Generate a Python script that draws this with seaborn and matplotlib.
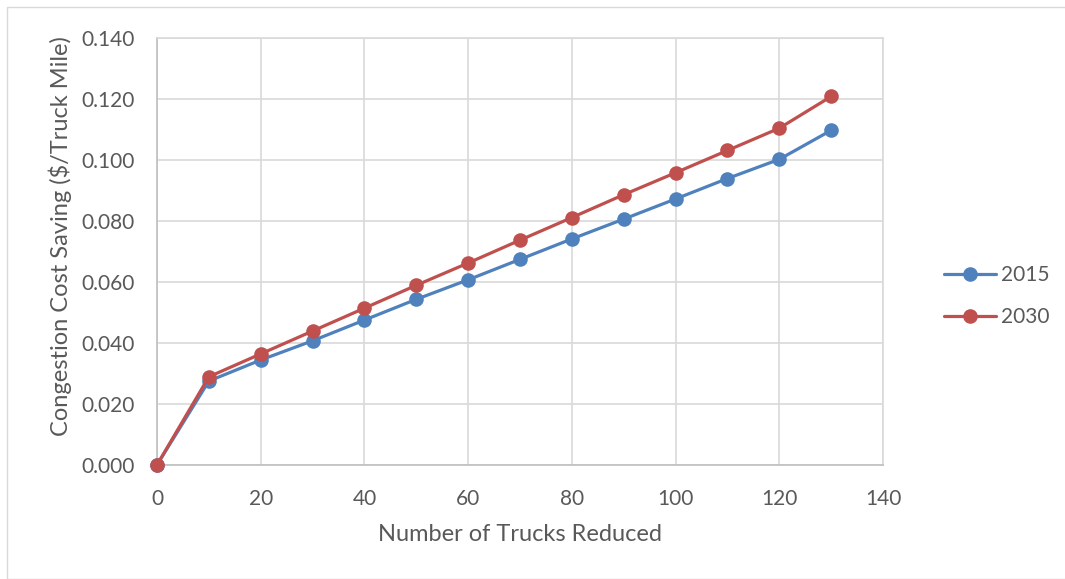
import matplotlib
matplotlib.use("Agg")
import matplotlib.pyplot as plt
import pandas as pd
import seaborn as sns
from matplotlib.patches import Rectangle

# Congestion cost saving per truck mile vs. number of trucks removed
trucks_reduced = [0, 10, 20, 30, 40, 50, 60, 70, 80, 90, 100, 110, 120, 130]
saving_2015 = [0.000, 0.0275, 0.0344, 0.0407, 0.0475, 0.0543, 0.0607, 0.0674, 0.0741,
               0.0806, 0.0872, 0.0939, 0.1002, 0.1097]
saving_2030 = [0.000, 0.0289, 0.0364, 0.0439, 0.0514, 0.0589, 0.0662, 0.0737, 0.0811,
               0.0886, 0.0958, 0.1031, 0.1104, 0.1208]
series_names = ["2015", "2030"]
x_ticks = [0, 20, 40, 60, 80, 100, 120, 140]
y_ticks = [0.0, 0.02, 0.04, 0.06, 0.08, 0.10, 0.12, 0.14]

df = pd.concat([
    pd.DataFrame({"trucks": trucks_reduced, "saving": saving_2015, "year": series_names[0]}),
    pd.DataFrame({"trucks": trucks_reduced, "saving": saving_2030, "year": series_names[1]}),
])

sns.set_theme(style="white")
plt.rcParams["font.family"] = ["Lato", "DejaVu Sans"]
text_color = "#595959"
grid_color = "#D9D9D9"

fig = plt.figure(figsize=(10.65, 5.79), dpi=100)
ax = fig.add_axes([0.1474, 0.197, 0.6817, 0.7375])

palette = {"2015": "#4F81BD", "2030": "#C0504D"}
sns.lineplot(data=df, x="trucks", y="saving", hue="year", palette=palette,
             marker="o", markersize=10.5, markeredgewidth=0, linewidth=2.3,
             ax=ax, clip_on=False, zorder=3)

ax.set_xlim(0, 140)
ax.set_ylim(0, 0.14)
ax.set_xticks(x_ticks)
ax.set_yticks(y_ticks)
ax.set_yticklabels([f"{v:.3f}" for v in y_ticks])
ax.grid(True, color=grid_color, linewidth=1.2)
ax.set_axisbelow(True)
for side in ["top", "right"]:
    ax.spines[side].set_color(grid_color)
    ax.spines[side].set_linewidth(1.2)
for side in ["left", "bottom"]:
    ax.spines[side].set_color("#BFBFBF")
    ax.spines[side].set_linewidth(1.2)
ax.tick_params(axis="both", length=0, labelsize=15, labelcolor=text_color)
ax.tick_params(axis="x", pad=17)
ax.tick_params(axis="y", pad=16)

ax.set_xlabel("Number of Trucks Reduced", fontsize=17, color=text_color)
ax.set_ylabel("Congestion Cost Saving ($/Truck Mile)", fontsize=17, color=text_color)
ax.xaxis.label.set_va("center")
ax.yaxis.label.set_va("center")
ax.xaxis.set_label_coords(0.5, -0.164)
ax.yaxis.set_label_coords(-0.1336, 0.536)

handles, labels = ax.get_legend_handles_labels()
ax.get_legend().remove()
leg = fig.legend(handles, labels, loc="center left", bbox_to_anchor=(0.8864, 0.4888),
                 frameon=False, fontsize=15, handlelength=2.5, labelspacing=1.05,
                 handletextpad=0.25, borderpad=0, borderaxespad=0)
for t in leg.get_texts():
    t.set_color(text_color)

# thin chart-area border
fig.patches.append(Rectangle((7 / 1065, 0.0), 1.0, 1 - 7 / 579, transform=fig.transFigure,
                             fill=False, edgecolor="#D9D9D9", linewidth=1.0))

fig.savefig("out.png", dpi=100)
